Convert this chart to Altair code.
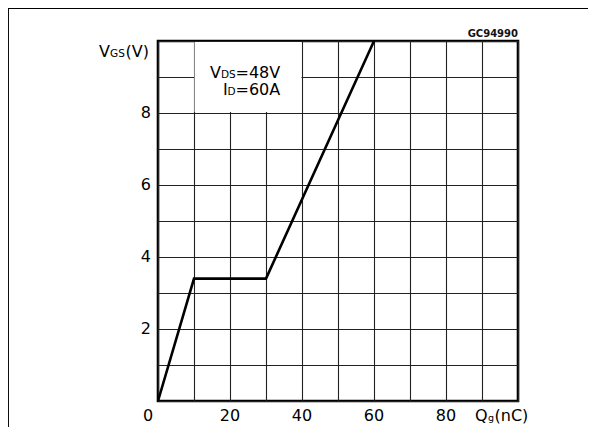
import altair as alt
import pandas as pd

# Gate charge curve
qg = [0, 10, 30, 60]
vgs = [0, 3.4, 3.4, 10]

x_ticks = [0, 20, 40, 60, 80]
y_ticks = [2, 4, 6, 8]
x_grid = list(range(0, 101, 10))
y_grid = list(range(0, 11, 1))

FONT = "DejaVu Sans"
PX_X = 3.6   # pixels per nC (360 px / 100)
PX_Y = 36.0  # pixels per V (360 px / 10)

XS = alt.Scale(domain=[0, 100], nice=False)
YS = alt.Scale(domain=[0, 10], nice=False)
XA = alt.Axis(values=x_grid, labels=False, ticks=False, domain=False, grid=True, title=None)
YA = alt.Axis(values=y_grid, labels=False, ticks=False, domain=False, grid=True, title=None)


def X(f):
    return alt.X(f, type="quantitative", scale=XS, axis=XA)


def Y(f):
    return alt.Y(f, type="quantitative", scale=YS, axis=YA)


curve = pd.DataFrame({"q": qg, "v": vgs})
line = alt.Chart(curve).mark_line(color="black", strokeWidth=2.6).encode(
    x=X("q"), y=Y("v"))

# white box behind the condition text
box_df = pd.DataFrame({"x": [10.15], "x2": [39.85], "y": [8.03], "y2": [9.97]})
box = alt.Chart(box_df).mark_rect(fill="white").encode(
    x=X("x"), x2="x2:Q", y=Y("y"), y2="y2:Q")

# tick labels
xl = pd.DataFrame({"x": [v - (10 / PX_X if v == 0 else 0) for v in x_ticks],
                   "y": [0] * len(x_ticks),
                   "t": [str(v) for v in x_ticks]})
xlab = alt.Chart(xl).mark_text(font=FONT, fontSize=16, baseline="alphabetic",
                               align="center", dy=19.5).encode(
    x=X("x"), y=Y("y"), text="t:N")

yl = pd.DataFrame({"x": [0] * len(y_ticks), "y": y_ticks,
                   "t": [str(v) for v in y_ticks]})
ylab = alt.Chart(yl).mark_text(font=FONT, fontSize=16, baseline="middle",
                               align="right", dx=-7).encode(
    x=X("x"), y=Y("y"), text="t:N")

# composed texts: anchor (data units) + pixel offsets, converted to data units
raw = [
    # axis title VGS(V)
    (0, 10, "V", 16, -59, 16),
    (0, 10, "GS", 10.5, -48, 16),
    (0, 10, "(V)", 16, -32.5, 16),
    # axis title Qg(nC)
    (100, 0, "Q", 16, -43, 19.5),
    (100, 0, "g", 9.5, -30, 19.5),
    (100, 0, "(nC)", 16, -23.5, 19.5),
    # conditions
    (10, 9, "V", 16, 16, 0.5),
    (10, 9, "DS", 10.5, 27, 0.5),
    (10, 9, "=48V", 16, 41.5, 0.5),
    (10, 8.5, "I", 16, 29, 0),
    (10, 8.5, "D", 10.5, 33.5, 0),
    (10, 8.5, "=60A", 16, 41.5, 0),
]
pieces = pd.DataFrame({
    "x": [a + dx / PX_X for a, _, _, _, dx, _ in raw],
    "y": [b - dy / PX_Y for _, b, _, _, _, dy in raw],
    "t": [t for _, _, t, _, _, _ in raw],
    "s": [s for _, _, _, s, _, _ in raw],
})
ptext = alt.Chart(pieces).mark_text(font=FONT, baseline="alphabetic",
                                    align="left", color="black").encode(
    x=X("x"), y=Y("y"), text="t:N",
    size=alt.Size("s:Q", scale=None, legend=None),
)

code_df = pd.DataFrame({"x": [100], "y": [10], "t": ["GC94990"]})
code = alt.Chart(code_df).mark_text(font=FONT, fontSize=10, fontWeight="bold",
                                    align="right", baseline="alphabetic", dy=-4,
                                    color="#111").encode(
    x=X("x"), y=Y("y"), text="t:N")

# outer frame (decoration, top and left edges)
frame_top = alt.Chart(code_df).mark_rule(color="black", strokeWidth=2.5).encode(
    x=alt.value(-150), x2=alt.value(460), y=alt.value(-33.3))
frame_left = alt.Chart(code_df).mark_rule(color="black", strokeWidth=2.5).encode(
    x=alt.value(-150.3), y=alt.value(-34.5), y2=alt.value(400))

chart = alt.layer(box, line, xlab, ylab, ptext, code,
                  frame_top, frame_left).properties(
    width=360, height=360,
    padding={"left": 150, "top": 33, "right": 70, "bottom": 26},
    autosize=alt.AutoSizeParams(type="none"),
    background="white",
).configure_view(stroke="black", strokeWidth=2.6
).configure_axis(gridColor="#222", gridWidth=1.1, gridOpacity=1)

chart.save("out.html", embed_options={"renderer": "svg", "actions": False})
